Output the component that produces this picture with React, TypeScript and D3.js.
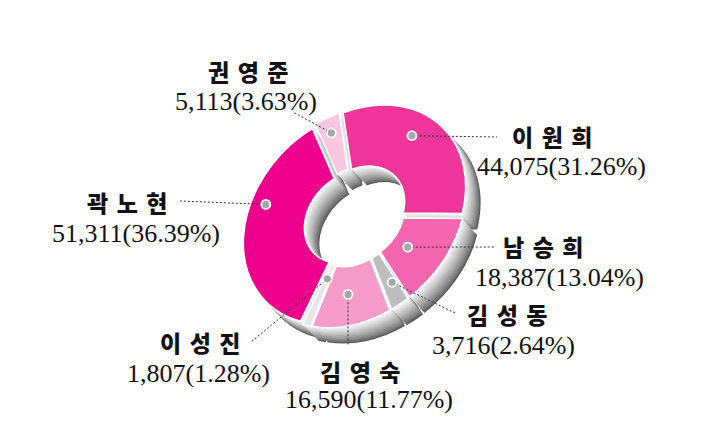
import { useEffect, useRef } from "react";
import * as d3 from "d3";

// candidates in clockwise order, starting near the top
const names = ["이원희", "남승희", "김성동", "김영숙", "이성진", "곽노현", "권영준"];
const votes = [44075, 18387, 3716, 16590, 1807, 51311, 5113];
const shares = [31.26, 13.04, 2.64, 11.77, 1.28, 36.39, 3.63];
const colors = ["#f0359a", "#f466b0", "#bdbdbd", "#f79bc9", "#e6e6e6", "#ec008c", "#f8c6de"];

// label placement: name, value, end of the leader line, dot position inside the slice
const labelLayout = [
  { nx: 512, ny: 146, vx: 477, vy: 175, lx: 497, ly: 137, t: 0.42, r: 0.63 },
  { nx: 503, ny: 256, vx: 475, vy: 286, lx: 495, ly: 247, t: 0.56, r: 0.31 },
  { nx: 467, ny: 324, vx: 432, vy: 354, lx: 455, ly: 313, t: 0.3, r: 0.58 },
  { nx: 320, ny: 381, vx: 285, vy: 408, lx: 348, ly: 345, t: 0.57, r: 0.47 },
  { nx: 160, ny: 352, vx: 127, vy: 382, lx: 251, ly: 342, t: 0.5, r: 0.22 },
  { nx: 87, ny: 212, vx: 52, vy: 242, lx: 180, ly: 201, t: 0.64, r: 0.74 },
  { nx: 208, ny: 81, vx: 175, vy: 110, lx: 293, ly: 112, t: 0.5, r: 0.72 },
];

export default function App() {
  const svgRef = useRef<SVGSVGElement>(null);

  useEffect(() => {
    if (!svgRef.current) return;
    const svg = d3.select(svgRef.current);
    svg.selectAll("*").remove();

    const width = 708;
    const height = 440;
    const cx = 355;
    const cy = 216;
    const outerR = 120;
    const innerR = 52;
    const squash = 0.78;
    const tilt = -45;
    const explode = 4.5;
    const depthX = 15;
    const depthY = 16;
    const layers = 20;
    const startOffset = (30 * Math.PI) / 180;

    svg.attr("width", width).attr("height", height).attr("viewBox", `0 0 ${width} ${height}`);

    const data = names.map((name, i) => ({
      name,
      votes: votes[i],
      share: shares[i],
      color: colors[i],
      layout: labelLayout[i],
    }));
    type Row = (typeof data)[number];

    const pie = d3
      .pie<Row>()
      .sort(null)
      .value((d) => d.votes)
      .startAngle(startOffset)
      .endAngle(startOffset + 2 * Math.PI);
    const arcs = pie(data);

    const arc = d3.arc<d3.PieArcDatum<Row>>().innerRadius(innerR).outerRadius(outerR);

    const ellipse = `rotate(${tilt}) scale(1, ${squash})`;
    const shift = (d: d3.PieArcDatum<Row>) => {
      const mid = (d.startAngle + d.endAngle) / 2;
      return `translate(${explode * Math.sin(mid)}, ${-explode * Math.cos(mid)})`;
    };

    // project a local (unsquashed) point to the page
    const rad = (tilt * Math.PI) / 180;
    const project = (x: number, y: number) => {
      const ys = y * squash;
      return [cx + x * Math.cos(rad) - ys * Math.sin(rad), cy + x * Math.sin(rad) + ys * Math.cos(rad)];
    };

    const sideColor = d3.interpolateRgb("#5a5a5a", "#f6f6f6");

    // extruded sides: stacked copies, deepest first
    for (let i = 0; i < layers; i++) {
      const f = (layers - i) / layers;
      const layer = svg
        .append("g")
        .attr("transform", `translate(${cx + depthX * f}, ${cy + depthY * f}) ${ellipse}`);
      layer
        .selectAll("path")
        .data(arcs)
        .enter()
        .append("path")
        .attr("transform", shift)
        .attr("d", arc)
        .attr("fill", sideColor(Math.pow(i / (layers - 1), 0.8)));
    }

    // top faces
    const top = svg.append("g").attr("transform", `translate(${cx}, ${cy}) ${ellipse}`);
    top
      .selectAll("path")
      .data(arcs)
      .enter()
      .append("path")
      .attr("transform", shift)
      .attr("d", arc)
      .attr("fill", (d) => d.data.color)
      .attr("stroke", "#ffffff")
      .attr("stroke-width", 1.5)
      .attr("vector-effect", "non-scaling-stroke");

    // leader lines, dots and labels
    arcs.forEach((d) => {
      const L = d.data.layout;
      const a = d.startAngle + L.t * (d.endAngle - d.startAngle);
      const mid = (d.startAngle + d.endAngle) / 2;
      const r = innerR + L.r * (outerR - innerR);
      const [px, py] = project(
        r * Math.sin(a) + explode * Math.sin(mid),
        -r * Math.cos(a) - explode * Math.cos(mid)
      );

      svg
        .append("line")
        .attr("x1", px)
        .attr("y1", py)
        .attr("x2", L.lx)
        .attr("y2", L.ly)
        .attr("stroke", "#333")
        .attr("stroke-width", 1)
        .attr("stroke-dasharray", "2,2");

      svg
        .append("circle")
        .attr("cx", px)
        .attr("cy", py)
        .attr("r", 4.5)
        .attr("fill", "#a6a6a6")
        .attr("stroke", "#fff")
        .attr("stroke-width", 1.8);

      svg
        .append("text")
        .attr("x", L.nx)
        .attr("y", L.ny)
        .attr("font-family", "'Noto Sans CJK KR', sans-serif")
        .attr("font-weight", 900)
        .attr("font-size", 23)
        .attr("letter-spacing", 8.5)
        .attr("fill", "#111")
        .text(d.data.name);

      svg
        .append("text")
        .attr("x", L.vx)
        .attr("y", L.vy)
        .attr("font-family", "'Liberation Serif', serif")
        .attr("font-size", 26)
        .attr("fill", "#111")
        .text(`${d3.format(",")(d.data.votes)}(${d.data.share.toFixed(2)}%)`);
    });
  }, []);

  return (
    <div style={{ position: "absolute", left: 0, top: 0, background: "#fff" }}>
      <svg ref={svgRef} style={{ display: "block" }}></svg>
    </div>
  );
}
